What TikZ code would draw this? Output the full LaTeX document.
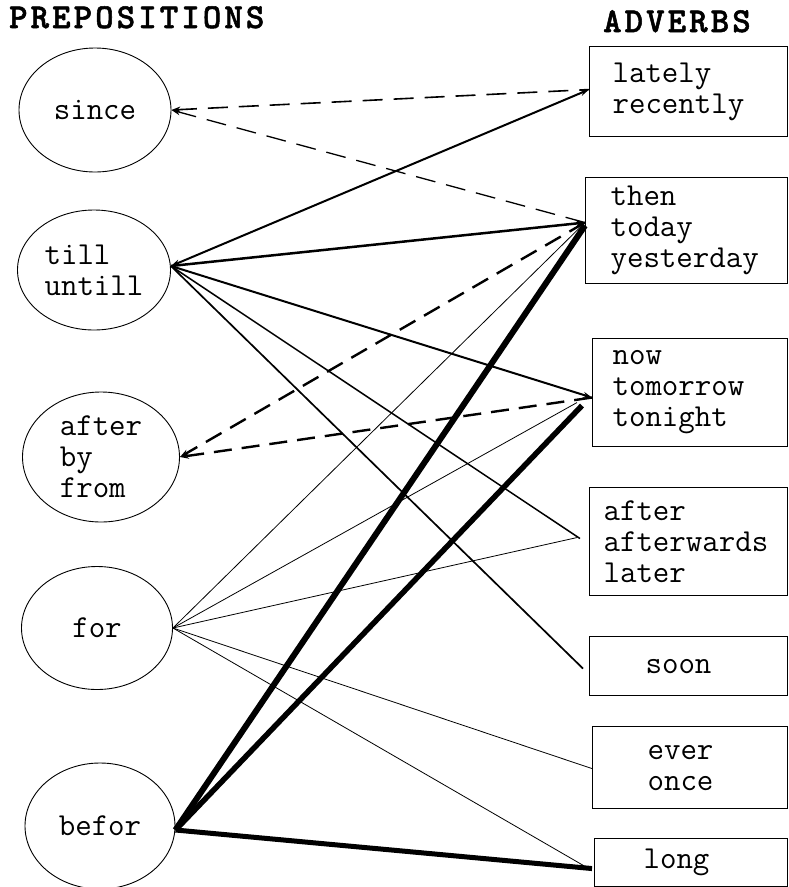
\documentclass[tikz,border=0pt]{standalone}
\usepackage{fontspec}
\newfontfamily\headfont[LetterSpace=9,FakeBold=1.5]{lmmonolt10-bold.otf}
\usetikzlibrary{arrows.meta,shapes.geometric}

\tikzset{
  prep/.style={ellipse,draw,line width=0.9pt,align=left,inner sep=0pt},
  adv/.style={draw,line width=1.1pt,align=left,anchor=north west,inner ysep=0pt},
  heading/.style={font=\headfont\fontsize{35}{35}\selectfont,
    anchor=base west,inner sep=0pt},
  thinlink/.style={line width=0.8pt},
  midlink/.style={line width=2pt},
  heavylink/.style={line width=5.5pt},
  dashlink/.style={dash pattern=on 20pt off 11pt}
}

\begin{document}
\begin{tikzpicture}[x=1pt,y=-1pt,font=\ttfamily\fontsize{32}{31}\selectfont,
    >={Stealth[length=9pt,width=6pt]}]
  \useasboundingbox (0,0) rectangle (788,887);

  \node[heading] (prepTitle) at (9,28) {PREPOSITIONS};
  \node[heading] (advTitle) at (603,32) {ADVERBS};

  % prepositions
  \node[prep,minimum width=152pt,minimum height=124pt] (since) at (95,110) {since};
  \node[prep,minimum width=153pt,minimum height=120pt] (till) at (94,270) {till\\untill};
  \node[prep,minimum width=157pt,minimum height=130pt] (afterBy) at (101,457) {after\\by\\from};
  \node[prep,minimum width=151pt,minimum height=123pt] (for) at (97,628) {for};
  \node[prep,minimum width=150pt,minimum height=126pt] (befor) at (100,826) {befor};

  % adverbs
  \node[adv,minimum width=198pt,minimum height=90pt,inner xsep=23pt,text width=152pt]
    (lately) at (589,46) {lately\\recently};
  \node[adv,minimum width=202pt,minimum height=106pt,inner xsep=25pt,text width=152pt]
    (then) at (585,177) {then\\today\\yesterday};
  \node[adv,minimum width=195pt,minimum height=108pt,inner xsep=20pt,text width=155pt]
    (now) at (592,338) {now\\tomorrow\\tonight};
  \node[adv,minimum width=198pt,minimum height=108pt,inner xsep=14pt,text width=170pt]
    (afterwards) at (589,487) {after\\afterwards\\later};
  \node[adv,minimum width=198pt,minimum height=59pt,inner xsep=56pt,text width=86pt]
    (soon) at (589,636) {soon};
  \node[adv,minimum width=195pt,minimum height=82pt,inner xsep=55pt,text width=85pt]
    (ever) at (592,726) {ever\\once};
  \node[adv,minimum width=193pt,minimum height=48pt,inner xsep=49pt,text width=95pt]
    (long) at (594,838) {long};

  % since
  \draw[dashlink,line width=1.6pt,<-] (since.east) -- ([yshift=2pt]lately.west);
  \draw[dashlink,line width=1.3pt,<-] (since.east) -- ([yshift=8pt]then.west);

  % till untill
  \draw[midlink,<->] ([yshift=4pt]till.east) -- ([yshift=2pt]lately.west);
  \draw[midlink,line width=2.5pt,->] ([yshift=4pt]till.east) -- ([yshift=8pt]then.west);
  \draw[midlink,->] ([yshift=4pt]till.east) -- ([yshift=-5pt]now.west);
  \draw[midlink,line width=1.5pt] ([yshift=4pt]till.east)
    -- ([xshift=-9pt,yshift=3pt]afterwards.west);
  \draw[midlink,line width=1.7pt] ([yshift=4pt]till.east)
    -- ([xshift=-6pt,yshift=-2.5pt]soon.west);

  % after by from
  \draw[dashlink,line width=2.4pt,dash pattern=on 18pt off 10pt,->]
    ([yshift=8pt]then.west) -- (afterBy.east);
  \draw[dashlink,line width=2.4pt,dash pattern=on 18pt off 10pt,->]
    ([yshift=-5pt]now.west) -- (afterBy.east);

  % for
  \foreach \target/\dx/\dy in {then/0pt/8pt,now/-15pt/-10pt,afterwards/-12pt/4pt,
    ever/0pt/-1pt,long/-7pt/-5pt}
    \draw[thinlink] (for.east) -- ([xshift=\dx,yshift=\dy]\target.west);

  % befor
  \draw[heavylink,line width=6pt] ([yshift=-4pt]befor.east) -- ([yshift=5pt]then.west);
  \draw[heavylink] ([yshift=-4pt]befor.east) -- ([xshift=-10pt,yshift=-13pt]now.west);
  \draw[heavylink,line width=5pt] ([yshift=-4pt]befor.east)
    -- ([xshift=-2pt,yshift=-6pt]long.west);
\end{tikzpicture}
\end{document}
